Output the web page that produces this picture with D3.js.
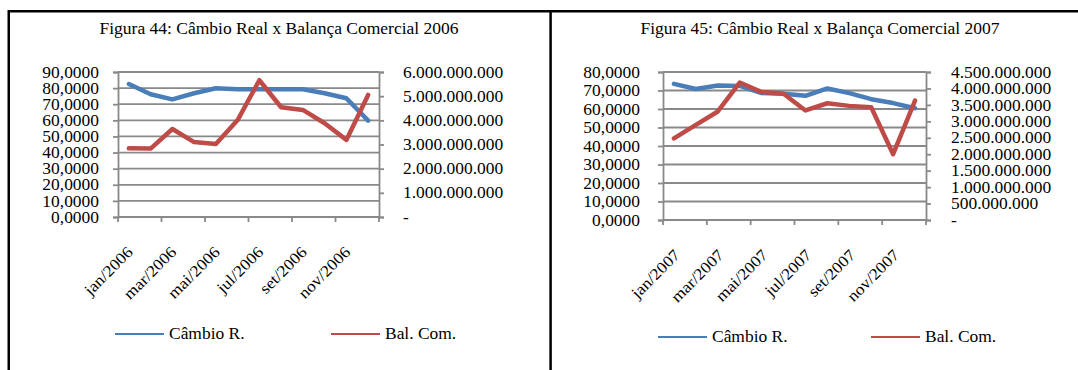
<!DOCTYPE html>
<html>
<head>
<meta charset="utf-8">
<script src="https://cdn.jsdelivr.net/npm/d3@7"></script>
<style>
  html, body { margin: 0; padding: 0; background: #fff; }
  svg { display: block; }
  text { font-family: "Liberation Serif", "Times New Roman", serif; fill: #000; }
</style>
</head>
<body>
<svg id="chart" width="1078" height="370"></svg>
<script>
// Monthly data: real exchange index (left axis) and trade balance in US$ (right axis)
const months2006 = ["jan/2006","fev/2006","mar/2006","abr/2006","mai/2006","jun/2006",
                    "jul/2006","ago/2006","set/2006","out/2006","nov/2006","dez/2006"];
const cambio2006 = [82.5, 76.2, 73.0, 76.8, 79.9, 79.3, 79.3, 79.3, 79.3, 76.8, 73.7, 59.8];
const balanca2006 = [2.84e9, 2.83e9, 3.64e9, 3.10e9, 3.02e9, 4.01e9,
                     5.66e9, 4.54e9, 4.43e9, 3.88e9, 3.19e9, 5.05e9];

const months2007 = ["jan/2007","fev/2007","mar/2007","abr/2007","mai/2007","jun/2007",
                    "jul/2007","ago/2007","set/2007","out/2007","nov/2007","dez/2007"];
const cambio2007 = [73.6, 70.8, 72.7, 72.5, 68.6, 68.2, 67.1, 71.1, 68.6, 65.3, 63.2, 60.4];
const balanca2007 = [2.48e9, 2.89e9, 3.30e9, 4.18e9, 3.89e9, 3.84e9,
                     3.33e9, 3.55e9, 3.47e9, 3.43e9, 2.00e9, 3.63e9];

// Axis tick values
const leftTicks2006 = [0, 10, 20, 30, 40, 50, 60, 70, 80, 90];
const rightTicks2006 = [0, 1e9, 2e9, 3e9, 4e9, 5e9, 6e9];
const leftTicks2007 = [0, 10, 20, 30, 40, 50, 60, 70, 80];
const rightTicks2007 = [0, 5e8, 1e9, 1.5e9, 2e9, 2.5e9, 3e9, 3.5e9, 4e9, 4.5e9];

const seriesNames = ["Câmbio R.", "Bal. Com."];
const titles = ["Figura 44: Câmbio Real x Balança Comercial 2006",
                "Figura 45: Câmbio Real x Balança Comercial 2007"];

const BLUE = "#4a7ebb", RED = "#be4b48", GRID = "#898989";

const ptBR = d3.formatLocale({ decimal: ",", thousands: ".", grouping: [3], currency: ["R$", ""] });
const fmtLeft = ptBR.format(",.4f");
const fmtRight = v => v === 0 ? "-" : ptBR.format(",.0f")(v);

const svg = d3.select("#chart");

// Panel frames
svg.append("path")
  .attr("d", "M8.75,370 V11.2 H1078 M550.6,11.2 V370")
  .attr("fill", "none").attr("stroke", "#000").attr("stroke-width", 2.5);

function drawPanel(cfg) {
  const g = svg.append("g");
  const { x0, x1, yTop, yBot } = cfg;

  g.append("text")
    .attr("class", "title")
    .attr("x", cfg.titleX).attr("y", 34)
    .attr("text-anchor", "middle")
    .attr("font-size", 17.5)
    .text(cfg.title);

  const x = d3.scaleBand().domain(cfg.months).range([x0, x1]).padding(0);
  const yL = d3.scaleLinear().domain([0, d3.max(cfg.leftTicks)]).range([yBot, yTop]);
  const yR = d3.scaleLinear().domain([0, d3.max(cfg.rightTicks)]).range([yBot, yTop]);

  // horizontal gridlines
  g.append("g").selectAll("line").data(cfg.leftTicks).join("line")
    .attr("x1", x0).attr("x2", x1)
    .attr("y1", d => yL(d)).attr("y2", d => yL(d))
    .attr("stroke", GRID).attr("stroke-width", 1.8);

  // left axis
  const la = g.append("g").attr("transform", `translate(${x0},0)`)
    .call(d3.axisLeft(yL).tickValues(cfg.leftTicks).tickSize(5).tickPadding(cfg.leftPad).tickFormat(fmtLeft));
  // right axis
  const ra = g.append("g").attr("transform", `translate(${x1},0)`)
    .call(d3.axisRight(yR).tickValues(cfg.rightTicks).tickSize(5).tickPadding(cfg.rightPad).tickFormat(fmtRight));
  [la, ra].forEach(a => {
    a.select(".domain").attr("stroke", GRID).attr("stroke-width", 1.8);
    a.selectAll(".tick line").attr("stroke", GRID).attr("stroke-width", 1.8);
    a.selectAll(".tick text").attr("font-size", 16).attr("class", "lbl")
      .attr("font-family", "Liberation Serif, Times New Roman, serif").attr("fill", "#000");
  });

  // bottom axis: tick marks every two months at band edges
  const edges = cfg.months.filter((d, i) => i % 2 === 0).map(d => x(d)).concat([x1]);
  g.append("line").attr("x1", x0).attr("x2", x1).attr("y1", yBot).attr("y2", yBot)
    .attr("stroke", GRID).attr("stroke-width", 1.8);
  g.append("g").selectAll("line").data(edges).join("line")
    .attr("x1", d => d).attr("x2", d => d)
    .attr("y1", yBot).attr("y2", yBot + 5)
    .attr("stroke", GRID).attr("stroke-width", 1.8);

  // rotated month labels, every second month
  g.append("g").selectAll("text")
    .data(cfg.months.filter((d, i) => i % 2 === 0)).join("text")
    .attr("class", "lbl")
    .attr("font-size", 16)
    .attr("text-anchor", "end")
    .attr("transform", d => `translate(${x(d) + x.bandwidth() / 2 + cfg.labelDx},${yBot + 36}) rotate(-45)`)
    .text(d => d);

  const cx = d => x(d) + x.bandwidth() / 2;
  const lineL = d3.line().x((d, i) => cx(cfg.months[i])).y(d => yL(d));
  const lineR = d3.line().x((d, i) => cx(cfg.months[i])).y(d => yR(d));

  g.append("path").datum(cfg.cambio).attr("d", lineL)
    .attr("fill", "none").attr("stroke", BLUE).attr("stroke-width", 4.5)
    .attr("stroke-linejoin", "round").attr("stroke-linecap", "round");
  g.append("path").datum(cfg.balanca).attr("d", lineR)
    .attr("fill", "none").attr("stroke", RED).attr("stroke-width", 4.5)
    .attr("stroke-linejoin", "round").attr("stroke-linecap", "round");

  // legend
  const lg = g.append("g");
  cfg.legend.forEach((L, i) => {
    lg.append("line").attr("x1", L.x).attr("x2", L.x + 49)
      .attr("y1", cfg.legendY).attr("y2", cfg.legendY)
      .attr("stroke", i === 0 ? BLUE : RED).attr("stroke-width", 2);
    lg.append("text").attr("class", "lbl").attr("x", L.x + 54).attr("y", cfg.legendY + 5)
      .attr("font-size", 16).text(seriesNames[i]);
  });
}

drawPanel({
  title: titles[0], titleX: 279,
  months: months2006, cambio: cambio2006, balanca: balanca2006,
  leftTicks: leftTicks2006, rightTicks: rightTicks2006,
  x0: 118, x1: 379, yTop: 72, yBot: 217,
  leftPad: 14, rightPad: 19, labelDx: 5,
  legendY: 334, legend: [{ x: 115 }, { x: 331 }]
});

drawPanel({
  title: titles[1], titleX: 820,
  months: months2007, cambio: cambio2007, balanca: balanca2007,
  leftTicks: leftTicks2007, rightTicks: rightTicks2007,
  x0: 663, x1: 926, yTop: 72, yBot: 220,
  leftPad: 18, rightPad: 20, labelDx: 7,
  legendY: 337, legend: [{ x: 658 }, { x: 871 }]
});

// The serif face is set slightly wide in this layout
svg.selectAll("text.lbl").each(function () {
  const w = this.getComputedTextLength();
  d3.select(this).attr("textLength", w * 1.09).attr("lengthAdjust", "spacingAndGlyphs");
});
svg.selectAll("text.title").each(function () {
  d3.select(this).attr("textLength", 359).attr("lengthAdjust", "spacingAndGlyphs");
});
</script>
</body>
</html>
